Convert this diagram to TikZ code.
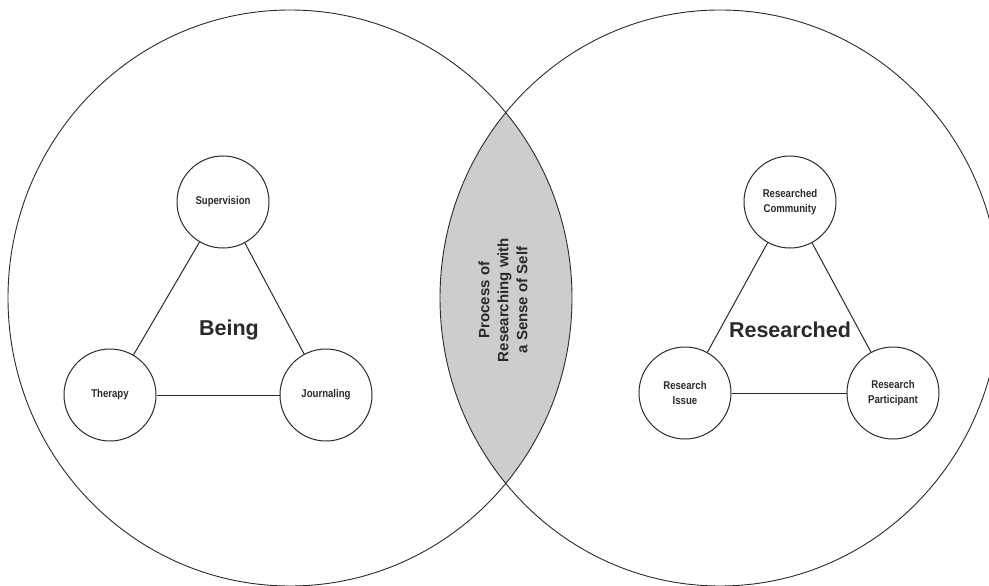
\documentclass[tikz,border=0pt]{standalone}
\usepackage{fontspec}
\setmainfont{Liberation Sans}
\newfontfamily\condfont[FakeStretch=0.85]{Liberation Sans}
\definecolor{ink}{HTML}{2A2A2A}
\definecolor{lensgray}{HTML}{CDCDCD}
\begin{document}
\begin{tikzpicture}[x=1pt,y=-1pt,
  bigline/.style={draw=ink,line width=0.9pt},
  smallc/.style={circle,draw=ink,line width=1pt,minimum size=92pt,inner sep=0pt,
    align=center,text=ink,font=\condfont\bfseries\fontsize{11.3}{15}\selectfont},
  biglabel/.style={text=ink,font=\bfseries\fontsize{21.5}{24}\selectfont},
  lenslabel/.style={text=ink,align=center,rotate=90,font=\bfseries\fontsize{15}{19}\selectfont},
  link/.style={draw=ink,line width=1pt}]
\useasboundingbox (0,0) rectangle (989,586);
\clip (0,0) rectangle (989,586);
% lens
\begin{scope}
  \clip (290,298) ellipse [x radius=282pt, y radius=288pt];
  \fill[lensgray] (720,298) ellipse [x radius=280pt, y radius=288pt];
\end{scope}
\draw[bigline] (290,298) ellipse [x radius=282pt, y radius=288pt];
\draw[bigline] (720,298) ellipse [x radius=280pt, y radius=288pt];
\node[lenslabel] (lens) at (503,300) {Process of\\Researching with\\a Sense of Self};
% left triangle
\node[smallc] (sup) at (223,202) {Supervision};
\node[smallc] (ther) at (110,395) {Therapy};
\node[smallc] (jour) at (326,395) {Journaling};
\draw[link] (sup) -- (ther);
\draw[link] (sup) -- (jour);
\draw[link] (ther) -- (jour);
\node[biglabel] (being) at (229,330) {Being};
% right triangle
\node[smallc] (comm) at (790,202) {Researched\\Community};
\node[smallc] (issue) at (685,393) {Research\\Issue};
\node[smallc] (part) at (893,393) {Research\\Participant};
\draw[link] (comm) -- (issue);
\draw[link] (comm) -- (part);
\draw[link] (issue) -- (part);
\node[biglabel] (res) at (790,330) {Researched};
\end{tikzpicture}
\end{document}
